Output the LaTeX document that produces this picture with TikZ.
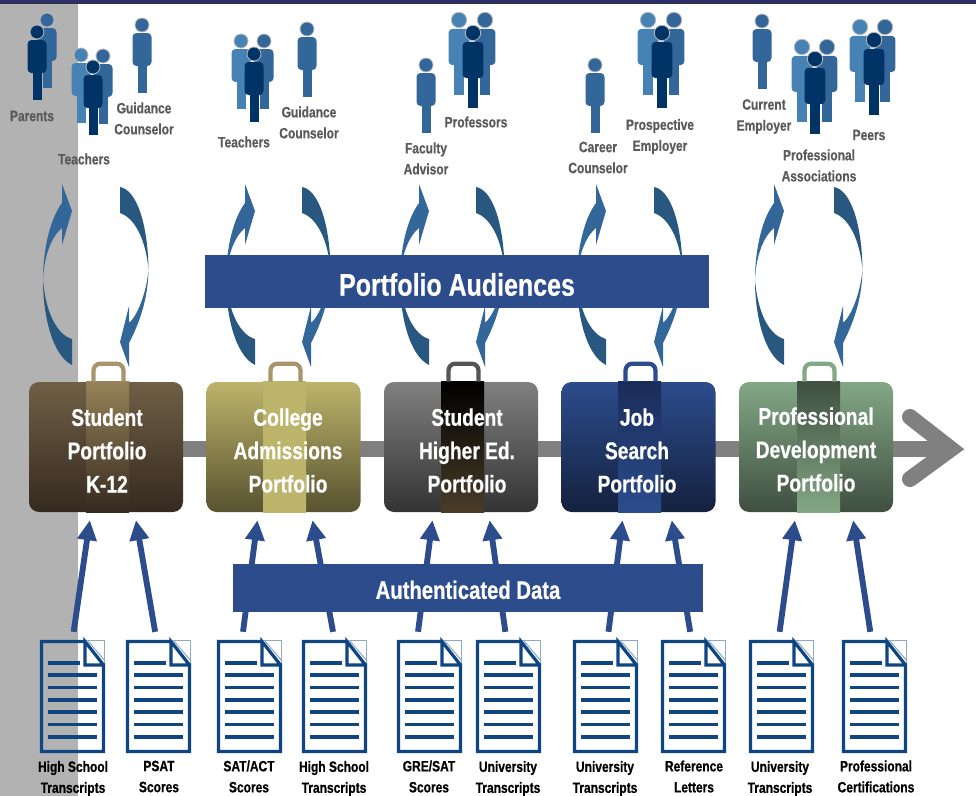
\documentclass[tikz,border=0pt]{standalone}
\usepackage{fontspec}
\newfontfamily\figfont[FakeStretch=.8,BoldFeatures={FakeBold=.5}]{Liberation Sans}
\usetikzlibrary{arrows.meta,calc}

\definecolor{barblue}{HTML}{2B2F6E}
\definecolor{panelgray}{HTML}{B2B2B2}
\definecolor{flowgray}{HTML}{808080}
\definecolor{bannerblue}{HTML}{2C4C8C}
\definecolor{pagenavy}{HTML}{0F4580}
\definecolor{pagelight}{HTML}{8FAAC8}
\definecolor{peoplelight}{HTML}{4682B4}
\definecolor{peoplemid}{HTML}{336699}
\definecolor{peopledark}{HTML}{003366}
\definecolor{arcdark}{HTML}{285880}
\definecolor{labelgray}{HTML}{5A5A5A}
\definecolor{brownhi}{HTML}{6F5F45}
\definecolor{brownlo}{HTML}{352A1F}
\definecolor{brownband}{HTML}{968258}
\definecolor{brownhandle}{HTML}{A8956B}
\definecolor{olivehi}{HTML}{BCB46A}
\definecolor{olivelo}{HTML}{585230}
\definecolor{greyhi}{HTML}{808080}
\definecolor{greylo}{HTML}{333333}
\definecolor{greyband}{HTML}{4A3C28}
\definecolor{greyhandle}{HTML}{555555}
\definecolor{navyhi}{HTML}{2C4C8C}
\definecolor{navylo}{HTML}{14213F}
\definecolor{navyband}{HTML}{1A2D5A}
\definecolor{greenhi}{HTML}{83A885}
\definecolor{greenlo}{HTML}{3F4F40}

\tikzset{
  person/.pic={
    \path [pic actions,rounded corners=3pt] (-9.5,8) rectangle (9.5,41);
    \path [pic actions] (-4.5,40) rectangle (4.5,68);
    \path [pic actions,draw=gray!55,line width=.6pt] (0,0) circle (7);
  },
  arcleft/.pic={
    \fill [peoplemid] (0,280) .. controls (0,255) and (5,222) .. (19,203) -- (19,184) -- (29,211) -- (19,245) -- (19,228) .. controls (9,236) and (1,255) .. (0,280);
    \fill [arcdark] (0,280) .. controls (0,315) and (9,355) .. (29,365) -- (29,339) .. controls (15,335) and (3,315) .. (0,280);
  },
  arcright/.pic={
    \fill [arcdark] (0,187) .. controls (17,190) and (28,225) .. (28.5,270) .. controls (26,240) and (15,218) .. (0,213) -- cycle;
    \fill [peoplemid] (28.5,270) .. controls (28,295) and (22,318) .. (9,343) -- (9,367) -- (0,342) -- (9,306) -- (9,323) .. controls (17,316) and (26,295) .. (28.5,270);
  },
  docpage/.pic={
    \node [pagebox] (-page) at (32.5,56.5) {};
    \draw [pagelight,line width=.8pt] (45,.5) -- (64.5,.5) -- (64.5,25);
    \draw [pagelight,line width=.8pt] (48,1) -- (65,21);
    \draw [pagenavy,line width=2.4pt,line join=miter] (45,1.5) -- (1.5,1.5) -- (1.5,111.5) -- (63.5,111.5) -- (63.5,25) -- (45,25) -- (45,1.5) -- (63.5,25);
    \draw [pagenavy,line width=2.6pt] (8,23) -- (40,23);
    \foreach \ly in {35,47.5,60,72,84.5,97} {
      \draw [pagenavy,line width=2.6pt] (8,\ly) -- (57,\ly);
    }
  }
}

\begin{document}
\begin{tikzpicture}[x=0.75pt,y=-0.75pt,node distance=133.125pt]
  {
    \tikzstyle{pagebox}=[minimum width=48.75pt,minimum height=84.75pt,inner sep=0pt]
    \tikzstyle{suitcase}=[minimum width=115.5pt,minimum height=97.5pt,inner sep=0pt,rounded corners=7.5pt]
    \tikzstyle{casetext}=[align=center,text=white,font=\figfont\bfseries\fontsize{18}{25}\selectfont]
    \tikzstyle{handle}=[line width=3.2pt,rounded corners=5pt]
    \tikzstyle{audience}=[align=center,text=labelgray,font=\figfont\bfseries\fontsize{11.25}{15.75}\selectfont]
    \tikzstyle{doclabel}=[align=center,text=black,font=\figfont\bfseries\fontsize{11.25}{15.75}\selectfont]
    \tikzstyle{banner}=[fill=bannerblue,text=white,inner sep=0pt,font=\figfont\bfseries]
    \tikzstyle{flowline}=[flowgray,line width=12.5pt]
    \tikzstyle{dataarrow}=[bannerblue,line width=4.4pt,-{Triangle[length=15pt,width=14pt]},shorten <=6pt,shorten >=6pt]

    \useasboundingbox (0,0) rectangle (976,796);
    \fill [panelgray] (0,4) rectangle (78,796);
    \fill [barblue] (0,0) rectangle (976,3);
    \fill [black!80] (0,3) rectangle (976,4);

    \coordinate (flowtail) at (106,449);
    \coordinate (flowtip) at (951,449);
    \coordinate (flowtop) at (910,417);
    \coordinate (flowbot) at (910,479);
    \draw [flowline] (flowtail) -- (flowtip);
    \draw [flowgray,line width=12pt,line cap=round,line join=miter] (flowtop) -- (flowtip) -- (flowbot);

    \begin{scope}
      \node [suitcase,top color=brownhi,bottom color=brownlo] (c1) at (106,447) {};
      \node [suitcase,top color=olivehi,bottom color=olivelo] (c2) [right of=c1] {};
      \node [suitcase,top color=greyhi,bottom color=greylo] (c3) [right of=c2] {};
      \node [suitcase,top color=navyhi,bottom color=navylo] (c4) [right of=c3] {};
      \node [suitcase,top color=greenhi,bottom color=greenlo] (c5) [right of=c4] {};

      \foreach \nm/\off/\bandhi/\bandlo/\grip in {c1/1.5/brownband/brownlo/brownhandle,c2/1/olivehi/olivehi/brownhandle,c3/1.5/black/greyband/greyhandle,c4/1/navyband/navyhi/navyhi,c5/2.5/greenlo/greenhi/greenhi} {
        \shade [top color=\bandhi,bottom color=\bandlo] ($(\nm.north)+(\off,0)+(-21.5,0)$) rectangle ($(\nm.south)+(\off,0)+(21.5,0)$);
        \draw [handle,\grip] ($(\nm.north)+(\off,0)+(-14,0)$) -- ($(\nm.north)+(\off,0)+(-14,-18)$) -- ($(\nm.north)+(\off,0)+(16,-18)$) -- ($(\nm.north)+(\off,0)+(16,0)$);
      }

      \node [casetext] (c1text) at (107,450.5) {Student\\Portfolio\\K-12};
      \node [casetext] (c2text) at (288,450.5) {College\\Admissions\\Portfolio};
      \node [casetext] (c3text) at (467,450.5) {Student\\Higher Ed.\\Portfolio};
      \node [casetext] (c4text) at (637,450.5) {Job\\Search\\Portfolio};
      \node [casetext] (c5text) at (816,449.5) {Professional\\Development\\Portfolio};
    \end{scope}

    \pic [fill=peoplemid] at (47,20) {person};
    \pic [fill=peopledark] at (37,32) {person};
    \pic [fill=peoplelight] at (81,55) {person};
    \pic [fill=peoplemid] at (103,56) {person};
    \pic [fill=peopledark] at (93,67) {person};
    \pic [fill=peoplemid] at (142,25) {person};
    \pic [fill=peoplelight] at (241,41) {person};
    \pic [fill=peoplemid] at (264,41) {person};
    \pic [fill=peopledark] at (254,54) {person};
    \pic [fill=peoplemid] at (307,29) {person};
    \pic [fill=peoplemid] at (426,65) {person};
    \pic [fill=peoplelight,scale=1.1] at (459,20) {person};
    \pic [fill=peoplemid,scale=1.1] at (485,20) {person};
    \pic [fill=peopledark,scale=1.1] at (473,33) {person};
    \pic [fill=peoplemid] at (595,65) {person};
    \pic [fill=peoplelight,scale=1.1] at (648,20) {person};
    \pic [fill=peoplemid,scale=1.1] at (674,20) {person};
    \pic [fill=peopledark,scale=1.1] at (662,33) {person};
    \pic [fill=peoplemid] at (762,21) {person};
    \pic [fill=peoplelight,scale=1.1] at (802,47) {person};
    \pic [fill=peoplemid,scale=1.1] at (827,47) {person};
    \pic [fill=peopledark,scale=1.1] at (815,59) {person};
    \pic [fill=peoplelight,scale=1.1] at (860,27) {person};
    \pic [fill=peoplemid,scale=1.1] at (885,27) {person};
    \pic [fill=peopledark,scale=1.1] at (874,40) {person};

    \node [audience] (a1) at (32,116) {Parents};
    \node [audience] (a2) at (84,159) {Teachers};
    \node [audience] (a3) at (144,118.5) {Guidance\\Counselor};
    \node [audience] (a4) at (244,142) {Teachers};
    \node [audience] (a5) at (309,122.5) {Guidance\\Counselor};
    \node [audience] (a6) at (426,158.5) {Faculty\\Advisor};
    \node [audience] (a7) at (476,122) {Professors};
    \node [audience] (a8) at (598,157.5) {Career\\Counselor};
    \node [audience] (a9) at (660,136.5) {Prospective\\Employer};
    \node [audience] (a10) at (764,116.5) {Current\\Employer};
    \node [audience] (a11) at (819,165.5) {Professional\\Associations};
    \node [audience] (a12) at (869,135) {Peers};

    \foreach \ax in {43,226,400,577,755} {
      \pic at (\ax,0) {arcleft};
    }
    \foreach \ax in {120,302,476,654,834} {
      \pic at (\ax,0) {arcright};
    }

    \foreach \i/\dx in {1/40,2/126,3/217,4/302,5/397,6/476,7/573,8/661,9/749,10/842} {
      \pic (d\i) at (\dx,640) {docpage};
    }

    \node [doclabel] (d1text) at (73,778.5) {High School\\Transcripts};
    \node [doclabel] (d2text) at (159,776.5) {PSAT\\Scores};
    \node [doclabel] (d3text) at (249,776.5) {SAT/ACT\\Scores};
    \node [doclabel] (d4text) at (334,778.5) {High School\\Transcripts};
    \node [doclabel] (d5text) at (429,776.5) {GRE/SAT\\Scores};
    \node [doclabel] (d6text) at (508,778.5) {University\\Transcripts};
    \node [doclabel] (d7text) at (605,778.5) {University\\Transcripts};
    \node [doclabel] (d8text) at (694,776.5) {Reference\\Letters};
    \node [doclabel] (d9text) at (780,778.5) {University\\Transcripts};
    \node [doclabel] (d10text) at (876,776.5) {Professional\\Certifications};

    \foreach \i/\a/\c/\b in {1/0/c1/-15,2/-2/c1/28.6,3/-7.5/c2/-25,4/0/c2/27.6,5/-12.5/c3/-27.5,6/-2/c3/27.5,7/2/c4/-15,8/-2/c4/32,9/-3/c5/-20,10/-3/c5/36} {
      \draw [dataarrow] ($(d\i-page.north)+(\a,0)$) -- ($(\c.south)+(\b,0)$);
    }

    \node [banner,minimum width=378pt,minimum height=39.75pt,text height=21.5pt,font=\figfont\bfseries\fontsize{23.4}{28}\selectfont] (audbanner) at (457,281.5) {Portfolio Audiences};
    \node [banner,minimum width=352.5pt,minimum height=36pt,text height=16.5pt,font=\figfont\bfseries\fontsize{19}{24}\selectfont] (databanner) at (468,588) {Authenticated Data};
  }
\end{tikzpicture}
\end{document}
